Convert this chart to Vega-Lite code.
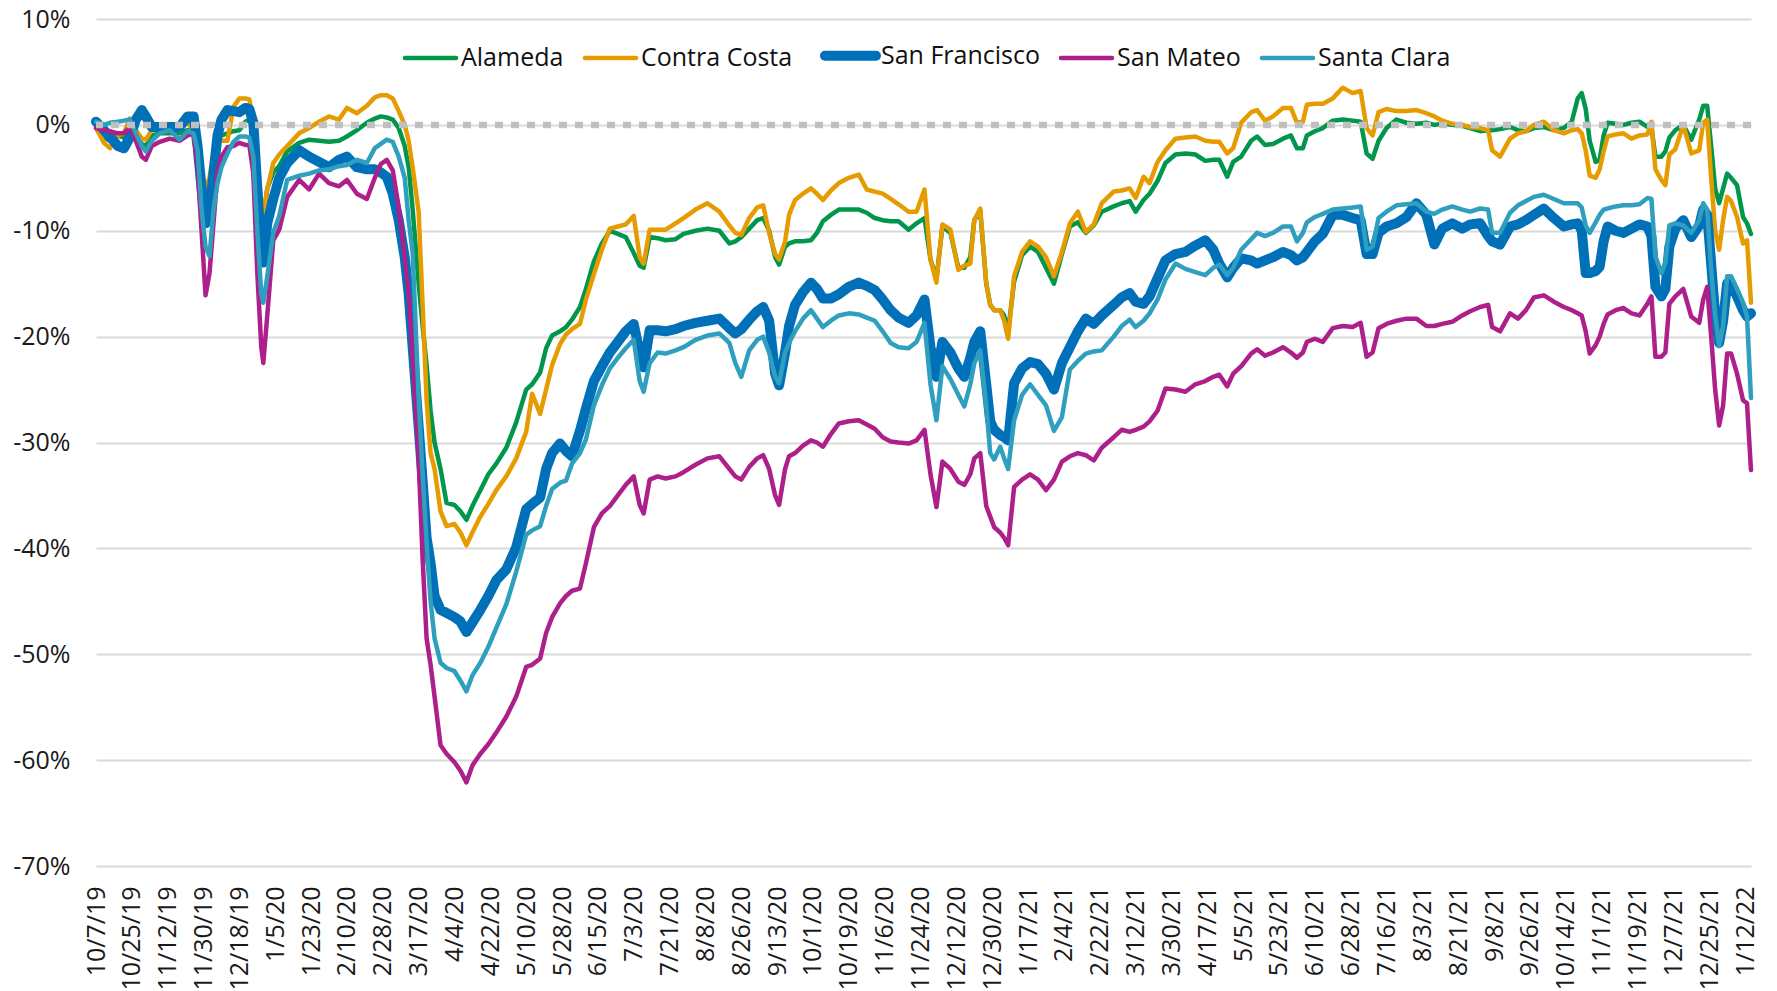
{
"$schema": "https://vega.github.io/schema/vega-lite/v6.json",
"width": 1655, "height": 847,
"autosize": {"type": "none"},
"padding": {"left": 96, "top": 19, "right": 26, "bottom": 125},
"background": "white",
"datasets": {"rows": [
{"date":"2019-10-07","Alameda":0,"Contra Costa":-0.3,"San Francisco":0.3,"San Mateo":-0.3,"Santa Clara":0.3},
{"date":"2019-10-11","Alameda":-1.2,"Contra Costa":-1.7,"San Francisco":-0.5,"San Mateo":-0.5,"Santa Clara":0},
{"date":"2019-10-14","Alameda":-1.5,"Contra Costa":-2.2,"San Francisco":-1.1,"San Mateo":-0.6,"Santa Clara":0.2},
{"date":"2019-10-18","Alameda":-1,"Contra Costa":-1,"San Francisco":-2,"San Mateo":-0.8,"Santa Clara":0.3},
{"date":"2019-10-21","Alameda":-1.2,"Contra Costa":-0.8,"San Francisco":-2.2,"San Mateo":-0.8,"Santa Clara":0.4},
{"date":"2019-10-24","Alameda":-0.5,"Contra Costa":0.6,"San Francisco":-1.2,"San Mateo":-0.2,"Santa Clara":0.5},
{"date":"2019-10-27","Alameda":-1,"Contra Costa":-0.5,"San Francisco":0.5,"San Mateo":-1.5,"Santa Clara":-0.8},
{"date":"2019-10-30","Alameda":-1.8,"Contra Costa":-1.3,"San Francisco":1.4,"San Mateo":-3,"Santa Clara":-2},
{"date":"2019-11-01","Alameda":-2,"Contra Costa":-1.4,"San Francisco":0.8,"San Mateo":-3.3,"Santa Clara":-2.5},
{"date":"2019-11-04","Alameda":-1,"Contra Costa":-0.5,"San Francisco":-0.2,"San Mateo":-2,"Santa Clara":-1.5},
{"date":"2019-11-08","Alameda":-0.8,"Contra Costa":-0.3,"San Francisco":-0.2,"San Mateo":-1.6,"Santa Clara":-0.8},
{"date":"2019-11-13","Alameda":-0.8,"Contra Costa":-0.2,"San Francisco":-0.2,"San Mateo":-1.3,"Santa Clara":-0.5},
{"date":"2019-11-18","Alameda":-0.8,"Contra Costa":-0.2,"San Francisco":-0.2,"San Mateo":-1.5,"Santa Clara":-1.4},
{"date":"2019-11-22","Alameda":-0.5,"Contra Costa":0.2,"San Francisco":0.8,"San Mateo":-1,"Santa Clara":-0.6},
{"date":"2019-11-25","Alameda":-0.6,"Contra Costa":-0.5,"San Francisco":0.8,"San Mateo":-0.8,"Santa Clara":-0.8},
{"date":"2019-11-27","Alameda":-2.5,"Contra Costa":-2,"San Francisco":-2,"San Mateo":-4,"Santa Clara":-2.4},
{"date":"2019-11-29","Alameda":-5,"Contra Costa":-4.5,"San Francisco":-6,"San Mateo":-10,"Santa Clara":-8},
{"date":"2019-12-01","Alameda":-7,"Contra Costa":-6,"San Francisco":-9.3,"San Mateo":-16.1,"Santa Clara":-11.5},
{"date":"2019-12-03","Alameda":-6,"Contra Costa":-5,"San Francisco":-8,"San Mateo":-14,"Santa Clara":-12.4},
{"date":"2019-12-05","Alameda":-3,"Contra Costa":-2.5,"San Francisco":-4.6,"San Mateo":-9.3,"Santa Clara":-8},
{"date":"2019-12-07","Alameda":-1.5,"Contra Costa":-1.5,"San Francisco":-1,"San Mateo":-4.5,"Santa Clara":-5.5},
{"date":"2019-12-09","Alameda":-1,"Contra Costa":-1.5,"San Francisco":0.5,"San Mateo":-3,"Santa Clara":-4},
{"date":"2019-12-12","Alameda":-0.8,"Contra Costa":-1.5,"San Francisco":1.4,"San Mateo":-2.1,"Santa Clara":-2.7},
{"date":"2019-12-15","Alameda":-0.6,"Contra Costa":1.7,"San Francisco":1.3,"San Mateo":-2,"Santa Clara":-1.6},
{"date":"2019-12-18","Alameda":-0.5,"Contra Costa":2.5,"San Francisco":1.2,"San Mateo":-1.7,"Santa Clara":-1.1},
{"date":"2019-12-21","Alameda":0.3,"Contra Costa":2.5,"San Francisco":1.6,"San Mateo":-1.9,"Santa Clara":-1.1},
{"date":"2019-12-23","Alameda":0.5,"Contra Costa":2.4,"San Francisco":1.5,"San Mateo":-1.9,"Santa Clara":-1.2},
{"date":"2019-12-25","Alameda":-0.5,"Contra Costa":0,"San Francisco":0.2,"San Mateo":-4.6,"Santa Clara":-3},
{"date":"2019-12-27","Alameda":-4,"Contra Costa":-4,"San Francisco":-6,"San Mateo":-14,"Santa Clara":-10},
{"date":"2019-12-29","Alameda":-8,"Contra Costa":-7.4,"San Francisco":-12,"San Mateo":-21,"Santa Clara":-16},
{"date":"2019-12-30","Alameda":-9,"Contra Costa":-8.3,"San Francisco":-13,"San Mateo":-22.5,"Santa Clara":-16.8},
{"date":"2020-01-01","Alameda":-6,"Contra Costa":-6.1,"San Francisco":-9.3,"San Mateo":-18,"Santa Clara":-14.3},
{"date":"2020-01-04","Alameda":-4.5,"Contra Costa":-3.6,"San Francisco":-7,"San Mateo":-10.9,"Santa Clara":-10.2},
{"date":"2020-01-07","Alameda":-3.9,"Contra Costa":-2.8,"San Francisco":-5,"San Mateo":-9.9,"Santa Clara":-8.6},
{"date":"2020-01-11","Alameda":-2.5,"Contra Costa":-2,"San Francisco":-3.6,"San Mateo":-6.8,"Santa Clara":-5.2},
{"date":"2020-01-17","Alameda":-1.7,"Contra Costa":-0.8,"San Francisco":-2.4,"San Mateo":-5.2,"Santa Clara":-4.8},
{"date":"2020-01-22","Alameda":-1.4,"Contra Costa":-0.3,"San Francisco":-3,"San Mateo":-6.1,"Santa Clara":-4.6},
{"date":"2020-01-27","Alameda":-1.5,"Contra Costa":0.3,"San Francisco":-3.5,"San Mateo":-4.6,"Santa Clara":-4.3},
{"date":"2020-02-01","Alameda":-1.6,"Contra Costa":0.8,"San Francisco":-4,"San Mateo":-5.5,"Santa Clara":-4.2},
{"date":"2020-02-06","Alameda":-1.5,"Contra Costa":0.5,"San Francisco":-3.3,"San Mateo":-5.8,"Santa Clara":-3.9},
{"date":"2020-02-10","Alameda":-1.1,"Contra Costa":1.6,"San Francisco":-3,"San Mateo":-5.2,"Santa Clara":-3.8},
{"date":"2020-02-15","Alameda":-0.5,"Contra Costa":1.1,"San Francisco":-4,"San Mateo":-6.5,"Santa Clara":-3.3},
{"date":"2020-02-20","Alameda":0.2,"Contra Costa":1.8,"San Francisco":-4.2,"San Mateo":-7,"Santa Clara":-3.6},
{"date":"2020-02-24","Alameda":0.6,"Contra Costa":2.6,"San Francisco":-4.2,"San Mateo":-5,"Santa Clara":-2.2},
{"date":"2020-02-27","Alameda":0.8,"Contra Costa":2.8,"San Francisco":-4.5,"San Mateo":-3.7,"Santa Clara":-1.8},
{"date":"2020-03-01","Alameda":0.7,"Contra Costa":2.8,"San Francisco":-4.9,"San Mateo":-3.3,"Santa Clara":-1.4},
{"date":"2020-03-04","Alameda":0.5,"Contra Costa":2.5,"San Francisco":-6.5,"San Mateo":-4.3,"Santa Clara":-1.6},
{"date":"2020-03-07","Alameda":-0.3,"Contra Costa":1.3,"San Francisco":-9,"San Mateo":-7.8,"Santa Clara":-3},
{"date":"2020-03-10","Alameda":-2,"Contra Costa":0,"San Francisco":-12.5,"San Mateo":-12.5,"Santa Clara":-5},
{"date":"2020-03-12","Alameda":-4,"Contra Costa":-1.5,"San Francisco":-16,"San Mateo":-16,"Santa Clara":-9},
{"date":"2020-03-14","Alameda":-8,"Contra Costa":-4,"San Francisco":-21,"San Mateo":-22,"Santa Clara":-12.1},
{"date":"2020-03-17","Alameda":-15,"Contra Costa":-8.2,"San Francisco":-28.5,"San Mateo":-31.5,"Santa Clara":-25.8},
{"date":"2020-03-19","Alameda":-19,"Contra Costa":-17,"San Francisco":-33.6,"San Mateo":-41,"Santa Clara":-33},
{"date":"2020-03-21","Alameda":-22.7,"Contra Costa":-26,"San Francisco":-39,"San Mateo":-48.5,"Santa Clara":-39.5},
{"date":"2020-03-23","Alameda":-27,"Contra Costa":-31,"San Francisco":-41.4,"San Mateo":-51,"Santa Clara":-45},
{"date":"2020-03-25","Alameda":-30,"Contra Costa":-32.5,"San Francisco":-44.5,"San Mateo":-54,"Santa Clara":-48.5},
{"date":"2020-03-28","Alameda":-32.5,"Contra Costa":-36.5,"San Francisco":-45.8,"San Mateo":-58.6,"Santa Clara":-50.8},
{"date":"2020-03-31","Alameda":-35.7,"Contra Costa":-37.9,"San Francisco":-46.1,"San Mateo":-59.4,"Santa Clara":-51.3},
{"date":"2020-04-04","Alameda":-35.9,"Contra Costa":-37.7,"San Francisco":-46.5,"San Mateo":-60.2,"Santa Clara":-51.6},
{"date":"2020-04-07","Alameda":-36.5,"Contra Costa":-38.5,"San Francisco":-46.9,"San Mateo":-61,"Santa Clara":-52.5},
{"date":"2020-04-10","Alameda":-37.3,"Contra Costa":-39.7,"San Francisco":-47.9,"San Mateo":-62.1,"Santa Clara":-53.5},
{"date":"2020-04-13","Alameda":-36,"Contra Costa":-38.5,"San Francisco":-47,"San Mateo":-60.5,"Santa Clara":-52},
{"date":"2020-04-17","Alameda":-34.5,"Contra Costa":-37,"San Francisco":-45.8,"San Mateo":-59.4,"Santa Clara":-50.8},
{"date":"2020-04-21","Alameda":-33,"Contra Costa":-35.8,"San Francisco":-44.5,"San Mateo":-58.5,"Santa Clara":-49.3},
{"date":"2020-04-25","Alameda":-32,"Contra Costa":-34.5,"San Francisco":-43,"San Mateo":-57.4,"Santa Clara":-47.5},
{"date":"2020-04-30","Alameda":-30.5,"Contra Costa":-33.2,"San Francisco":-42,"San Mateo":-55.9,"Santa Clara":-45.3},
{"date":"2020-05-05","Alameda":-28.1,"Contra Costa":-31.5,"San Francisco":-39.9,"San Mateo":-54,"Santa Clara":-42.2},
{"date":"2020-05-10","Alameda":-25,"Contra Costa":-29,"San Francisco":-36.3,"San Mateo":-51.2,"Santa Clara":-38.7},
{"date":"2020-05-13","Alameda":-24.5,"Contra Costa":-25.4,"San Francisco":-35.8,"San Mateo":-51,"Santa Clara":-38.3},
{"date":"2020-05-17","Alameda":-23.4,"Contra Costa":-27.3,"San Francisco":-35.2,"San Mateo":-50.4,"Santa Clara":-37.9},
{"date":"2020-05-20","Alameda":-21.1,"Contra Costa":-25,"San Francisco":-32.5,"San Mateo":-48,"Santa Clara":-36},
{"date":"2020-05-23","Alameda":-19.9,"Contra Costa":-22.7,"San Francisco":-31,"San Mateo":-46.5,"Santa Clara":-34.4},
{"date":"2020-05-27","Alameda":-19.5,"Contra Costa":-20.7,"San Francisco":-30.1,"San Mateo":-45.2,"Santa Clara":-33.8},
{"date":"2020-05-30","Alameda":-19.1,"Contra Costa":-19.8,"San Francisco":-30.8,"San Mateo":-44.5,"Santa Clara":-33.6},
{"date":"2020-06-02","Alameda":-18.4,"Contra Costa":-19.3,"San Francisco":-31.3,"San Mateo":-44,"Santa Clara":-32},
{"date":"2020-06-06","Alameda":-17.2,"Contra Costa":-18.8,"San Francisco":-28.9,"San Mateo":-43.8,"Santa Clara":-31},
{"date":"2020-06-09","Alameda":-15.5,"Contra Costa":-16.5,"San Francisco":-26.8,"San Mateo":-41.4,"Santa Clara":-29.7},
{"date":"2020-06-13","Alameda":-12.9,"Contra Costa":-14.1,"San Francisco":-24.2,"San Mateo":-38,"Santa Clara":-26.5},
{"date":"2020-06-17","Alameda":-11.2,"Contra Costa":-11.8,"San Francisco":-22.8,"San Mateo":-36.7,"Santa Clara":-24.6},
{"date":"2020-06-21","Alameda":-10,"Contra Costa":-9.8,"San Francisco":-21.5,"San Mateo":-36,"Santa Clara":-23},
{"date":"2020-06-25","Alameda":-10.3,"Contra Costa":-9.6,"San Francisco":-20.5,"San Mateo":-35,"Santa Clara":-22},
{"date":"2020-06-29","Alameda":-10.6,"Contra Costa":-9.4,"San Francisco":-19.5,"San Mateo":-34,"Santa Clara":-21.1},
{"date":"2020-07-03","Alameda":-12.1,"Contra Costa":-8.6,"San Francisco":-18.8,"San Mateo":-33.2,"Santa Clara":-20.3},
{"date":"2020-07-06","Alameda":-13.3,"Contra Costa":-12.5,"San Francisco":-21.5,"San Mateo":-35.9,"Santa Clara":-24.2},
{"date":"2020-07-08","Alameda":-13.5,"Contra Costa":-13.1,"San Francisco":-22.9,"San Mateo":-36.7,"Santa Clara":-25.2},
{"date":"2020-07-11","Alameda":-10.6,"Contra Costa":-9.9,"San Francisco":-19.4,"San Mateo":-33.5,"Santa Clara":-22.5},
{"date":"2020-07-15","Alameda":-10.7,"Contra Costa":-9.9,"San Francisco":-19.4,"San Mateo":-33.2,"Santa Clara":-21.5},
{"date":"2020-07-19","Alameda":-10.9,"Contra Costa":-9.9,"San Francisco":-19.5,"San Mateo":-33.4,"Santa Clara":-21.6},
{"date":"2020-07-24","Alameda":-10.8,"Contra Costa":-9.3,"San Francisco":-19.3,"San Mateo":-33.2,"Santa Clara":-21.3},
{"date":"2020-07-28","Alameda":-10.3,"Contra Costa":-8.8,"San Francisco":-19,"San Mateo":-32.8,"Santa Clara":-21},
{"date":"2020-08-03","Alameda":-10,"Contra Costa":-8,"San Francisco":-18.7,"San Mateo":-32.1,"Santa Clara":-20.3},
{"date":"2020-08-09","Alameda":-9.8,"Contra Costa":-7.4,"San Francisco":-18.5,"San Mateo":-31.5,"Santa Clara":-19.9},
{"date":"2020-08-15","Alameda":-10,"Contra Costa":-8.2,"San Francisco":-18.3,"San Mateo":-31.3,"Santa Clara":-19.7},
{"date":"2020-08-20","Alameda":-11.2,"Contra Costa":-9.5,"San Francisco":-19.2,"San Mateo":-32.5,"Santa Clara":-20.6},
{"date":"2020-08-23","Alameda":-11,"Contra Costa":-10.2,"San Francisco":-19.7,"San Mateo":-33.2,"Santa Clara":-22.5},
{"date":"2020-08-26","Alameda":-10.6,"Contra Costa":-10.4,"San Francisco":-19.3,"San Mateo":-33.5,"Santa Clara":-23.8},
{"date":"2020-08-30","Alameda":-9.8,"Contra Costa":-8.8,"San Francisco":-18.4,"San Mateo":-32.3,"Santa Clara":-21.3},
{"date":"2020-09-03","Alameda":-9,"Contra Costa":-7.8,"San Francisco":-17.6,"San Mateo":-31.5,"Santa Clara":-20.3},
{"date":"2020-09-06","Alameda":-8.8,"Contra Costa":-7.6,"San Francisco":-17.2,"San Mateo":-31.2,"Santa Clara":-20},
{"date":"2020-09-09","Alameda":-10,"Contra Costa":-10.2,"San Francisco":-18.5,"San Mateo":-32.5,"Santa Clara":-21.5},
{"date":"2020-09-12","Alameda":-12.5,"Contra Costa":-12.2,"San Francisco":-23.5,"San Mateo":-35,"Santa Clara":-23.8},
{"date":"2020-09-14","Alameda":-13.2,"Contra Costa":-12.7,"San Francisco":-24.6,"San Mateo":-35.9,"Santa Clara":-24.4},
{"date":"2020-09-17","Alameda":-11.5,"Contra Costa":-11,"San Francisco":-21.5,"San Mateo":-32.5,"Santa Clara":-21.5},
{"date":"2020-09-19","Alameda":-11.2,"Contra Costa":-8.5,"San Francisco":-19,"San Mateo":-31.3,"Santa Clara":-20.6},
{"date":"2020-09-22","Alameda":-11,"Contra Costa":-7.1,"San Francisco":-17,"San Mateo":-31,"Santa Clara":-19.5},
{"date":"2020-09-26","Alameda":-11,"Contra Costa":-6.5,"San Francisco":-15.8,"San Mateo":-30.3,"Santa Clara":-18.3},
{"date":"2020-09-30","Alameda":-10.9,"Contra Costa":-6,"San Francisco":-14.9,"San Mateo":-29.8,"Santa Clara":-17.5},
{"date":"2020-10-03","Alameda":-10.2,"Contra Costa":-6.5,"San Francisco":-15.5,"San Mateo":-30,"Santa Clara":-18.3},
{"date":"2020-10-06","Alameda":-9.1,"Contra Costa":-7.1,"San Francisco":-16.4,"San Mateo":-30.4,"Santa Clara":-19.1},
{"date":"2020-10-10","Alameda":-8.5,"Contra Costa":-6.2,"San Francisco":-16.4,"San Mateo":-29.2,"Santa Clara":-18.5},
{"date":"2020-10-14","Alameda":-8,"Contra Costa":-5.5,"San Francisco":-16,"San Mateo":-28.2,"Santa Clara":-18},
{"date":"2020-10-19","Alameda":-8,"Contra Costa":-5,"San Francisco":-15.3,"San Mateo":-28,"Santa Clara":-17.8},
{"date":"2020-10-24","Alameda":-8,"Contra Costa":-4.7,"San Francisco":-14.9,"San Mateo":-27.9,"Santa Clara":-17.9},
{"date":"2020-10-28","Alameda":-8.3,"Contra Costa":-6.1,"San Francisco":-15.2,"San Mateo":-28.3,"Santa Clara":-18.2},
{"date":"2020-11-01","Alameda":-8.8,"Contra Costa":-6.3,"San Francisco":-15.6,"San Mateo":-28.7,"Santa Clara":-18.5},
{"date":"2020-11-05","Alameda":-9,"Contra Costa":-6.5,"San Francisco":-16.5,"San Mateo":-29.5,"Santa Clara":-19.5},
{"date":"2020-11-09","Alameda":-9.1,"Contra Costa":-7,"San Francisco":-17.5,"San Mateo":-29.9,"Santa Clara":-20.6},
{"date":"2020-11-13","Alameda":-9.1,"Contra Costa":-7.5,"San Francisco":-18.2,"San Mateo":-30,"Santa Clara":-21},
{"date":"2020-11-18","Alameda":-9.9,"Contra Costa":-8.2,"San Francisco":-18.7,"San Mateo":-30.1,"Santa Clara":-21.1},
{"date":"2020-11-22","Alameda":-9.3,"Contra Costa":-8.2,"San Francisco":-18,"San Mateo":-29.8,"Santa Clara":-20.5},
{"date":"2020-11-26","Alameda":-8.8,"Contra Costa":-6.1,"San Francisco":-16.5,"San Mateo":-28.8,"Santa Clara":-18.7},
{"date":"2020-11-29","Alameda":-12.7,"Contra Costa":-12.7,"San Francisco":-21,"San Mateo":-33,"Santa Clara":-24.5},
{"date":"2020-12-02","Alameda":-14.5,"Contra Costa":-14.9,"San Francisco":-23.8,"San Mateo":-36.1,"Santa Clara":-27.9},
{"date":"2020-12-05","Alameda":-9.6,"Contra Costa":-9.4,"San Francisco":-20.5,"San Mateo":-31.8,"Santa Clara":-22.8},
{"date":"2020-12-09","Alameda":-10.2,"Contra Costa":-9.9,"San Francisco":-21.5,"San Mateo":-32.5,"Santa Clara":-24},
{"date":"2020-12-13","Alameda":-13.5,"Contra Costa":-13.7,"San Francisco":-23,"San Mateo":-33.7,"Santa Clara":-25.5},
{"date":"2020-12-16","Alameda":-13.5,"Contra Costa":-13.3,"San Francisco":-23.8,"San Mateo":-34,"Santa Clara":-26.6},
{"date":"2020-12-19","Alameda":-12.5,"Contra Costa":-13.1,"San Francisco":-22,"San Mateo":-33,"Santa Clara":-24.5},
{"date":"2020-12-21","Alameda":-9,"Contra Costa":-9,"San Francisco":-20.5,"San Mateo":-31.5,"Santa Clara":-22.5},
{"date":"2020-12-24","Alameda":-8.2,"Contra Costa":-7.9,"San Francisco":-19.5,"San Mateo":-31,"Santa Clara":-21.3},
{"date":"2020-12-27","Alameda":-15,"Contra Costa":-14.9,"San Francisco":-24.5,"San Mateo":-36,"Santa Clara":-26.5},
{"date":"2020-12-29","Alameda":-17,"Contra Costa":-17,"San Francisco":-28,"San Mateo":-37,"Santa Clara":-31},
{"date":"2020-12-31","Alameda":-17.5,"Contra Costa":-17.5,"San Francisco":-28.8,"San Mateo":-38,"Santa Clara":-31.6},
{"date":"2021-01-03","Alameda":-17.5,"Contra Costa":-17.5,"San Francisco":-29.3,"San Mateo":-38.5,"Santa Clara":-30.4},
{"date":"2021-01-05","Alameda":-18,"Contra Costa":-18.5,"San Francisco":-29.5,"San Mateo":-39,"Santa Clara":-31.5},
{"date":"2021-01-07","Alameda":-19.5,"Contra Costa":-20.2,"San Francisco":-29.8,"San Mateo":-39.7,"Santa Clara":-32.5},
{"date":"2021-01-10","Alameda":-14.8,"Contra Costa":-14.3,"San Francisco":-24.4,"San Mateo":-34.2,"Santa Clara":-27.9},
{"date":"2021-01-14","Alameda":-12.3,"Contra Costa":-12,"San Francisco":-23,"San Mateo":-33.5,"Santa Clara":-25.5},
{"date":"2021-01-18","Alameda":-11.5,"Contra Costa":-11,"San Francisco":-22.4,"San Mateo":-33,"Santa Clara":-24.5},
{"date":"2021-01-22","Alameda":-12,"Contra Costa":-11.5,"San Francisco":-22.6,"San Mateo":-33.5,"Santa Clara":-25.5},
{"date":"2021-01-26","Alameda":-13.5,"Contra Costa":-12.5,"San Francisco":-23.5,"San Mateo":-34.5,"Santa Clara":-26.5},
{"date":"2021-01-30","Alameda":-15,"Contra Costa":-14.3,"San Francisco":-25,"San Mateo":-33.5,"Santa Clara":-28.9},
{"date":"2021-02-03","Alameda":-12.2,"Contra Costa":-12,"San Francisco":-22.5,"San Mateo":-31.8,"Santa Clara":-27.6},
{"date":"2021-02-07","Alameda":-9.6,"Contra Costa":-9.3,"San Francisco":-21,"San Mateo":-31.3,"Santa Clara":-23.1},
{"date":"2021-02-11","Alameda":-9.2,"Contra Costa":-8.2,"San Francisco":-19.5,"San Mateo":-31,"Santa Clara":-22.3},
{"date":"2021-02-15","Alameda":-10.2,"Contra Costa":-10.1,"San Francisco":-18.3,"San Mateo":-31.2,"Santa Clara":-21.6},
{"date":"2021-02-19","Alameda":-9.5,"Contra Costa":-9.4,"San Francisco":-18.8,"San Mateo":-31.7,"Santa Clara":-21.4},
{"date":"2021-02-23","Alameda":-8.2,"Contra Costa":-7.4,"San Francisco":-18,"San Mateo":-30.5,"Santa Clara":-21.3},
{"date":"2021-03-01","Alameda":-7.7,"Contra Costa":-6.3,"San Francisco":-17,"San Mateo":-29.5,"Santa Clara":-20},
{"date":"2021-03-05","Alameda":-7.4,"Contra Costa":-6.2,"San Francisco":-16.3,"San Mateo":-28.8,"Santa Clara":-19},
{"date":"2021-03-09","Alameda":-7.2,"Contra Costa":-6,"San Francisco":-15.9,"San Mateo":-29,"Santa Clara":-18.4},
{"date":"2021-03-12","Alameda":-8.2,"Contra Costa":-6.9,"San Francisco":-16.7,"San Mateo":-28.8,"Santa Clara":-19.1},
{"date":"2021-03-16","Alameda":-7.1,"Contra Costa":-4.9,"San Francisco":-16.9,"San Mateo":-28.5,"Santa Clara":-18.5},
{"date":"2021-03-19","Alameda":-6.5,"Contra Costa":-5.5,"San Francisco":-16.2,"San Mateo":-28,"Santa Clara":-17.8},
{"date":"2021-03-23","Alameda":-5.3,"Contra Costa":-3.5,"San Francisco":-14.5,"San Mateo":-27,"Santa Clara":-16.5},
{"date":"2021-03-27","Alameda":-3.6,"Contra Costa":-2.4,"San Francisco":-12.8,"San Mateo":-24.9,"Santa Clara":-14.6},
{"date":"2021-04-01","Alameda":-2.8,"Contra Costa":-1.3,"San Francisco":-12.2,"San Mateo":-25,"Santa Clara":-13.1},
{"date":"2021-04-06","Alameda":-2.7,"Contra Costa":-1.2,"San Francisco":-12,"San Mateo":-25.2,"Santa Clara":-13.6},
{"date":"2021-04-11","Alameda":-2.8,"Contra Costa":-1.1,"San Francisco":-11.4,"San Mateo":-24.5,"Santa Clara":-13.9},
{"date":"2021-04-16","Alameda":-3.4,"Contra Costa":-1.5,"San Francisco":-10.9,"San Mateo":-24.2,"Santa Clara":-14.2},
{"date":"2021-04-20","Alameda":-3.3,"Contra Costa":-1.6,"San Francisco":-11.8,"San Mateo":-23.8,"Santa Clara":-13.5},
{"date":"2021-04-23","Alameda":-3.3,"Contra Costa":-1.6,"San Francisco":-13.1,"San Mateo":-23.6,"Santa Clara":-13.2},
{"date":"2021-04-27","Alameda":-4.9,"Contra Costa":-2.7,"San Francisco":-14.4,"San Mateo":-24.7,"Santa Clara":-14.2},
{"date":"2021-04-30","Alameda":-3.5,"Contra Costa":-2.2,"San Francisco":-13.5,"San Mateo":-23.5,"Santa Clara":-13.5},
{"date":"2021-05-04","Alameda":-3,"Contra Costa":0.2,"San Francisco":-12.6,"San Mateo":-22.8,"Santa Clara":-11.8},
{"date":"2021-05-09","Alameda":-1.5,"Contra Costa":1.2,"San Francisco":-12.8,"San Mateo":-21.6,"Santa Clara":-10.8},
{"date":"2021-05-12","Alameda":-1.1,"Contra Costa":1.4,"San Francisco":-13.1,"San Mateo":-21.2,"Santa Clara":-10.2},
{"date":"2021-05-16","Alameda":-1.9,"Contra Costa":0.4,"San Francisco":-12.8,"San Mateo":-21.8,"Santa Clara":-10.5},
{"date":"2021-05-20","Alameda":-1.8,"Contra Costa":0.8,"San Francisco":-12.5,"San Mateo":-21.5,"Santa Clara":-10.2},
{"date":"2021-05-25","Alameda":-1.3,"Contra Costa":1.6,"San Francisco":-12,"San Mateo":-21,"Santa Clara":-9.6},
{"date":"2021-05-29","Alameda":-1,"Contra Costa":1.6,"San Francisco":-12.3,"San Mateo":-21.5,"Santa Clara":-9.6},
{"date":"2021-06-01","Alameda":-2.2,"Contra Costa":0.2,"San Francisco":-12.8,"San Mateo":-22,"Santa Clara":-11},
{"date":"2021-06-04","Alameda":-2.2,"Contra Costa":0.3,"San Francisco":-12.5,"San Mateo":-21.5,"Santa Clara":-10.2},
{"date":"2021-06-06","Alameda":-1,"Contra Costa":1.9,"San Francisco":-12,"San Mateo":-20.5,"Santa Clara":-9.2},
{"date":"2021-06-10","Alameda":-0.6,"Contra Costa":2,"San Francisco":-11,"San Mateo":-20.2,"Santa Clara":-8.7},
{"date":"2021-06-14","Alameda":-0.3,"Contra Costa":2,"San Francisco":-10.3,"San Mateo":-20.5,"Santa Clara":-8.4},
{"date":"2021-06-19","Alameda":0.4,"Contra Costa":2.5,"San Francisco":-8.5,"San Mateo":-19.2,"Santa Clara":-8},
{"date":"2021-06-24","Alameda":0.5,"Contra Costa":3.5,"San Francisco":-8.5,"San Mateo":-19,"Santa Clara":-7.9},
{"date":"2021-06-29","Alameda":0.4,"Contra Costa":3,"San Francisco":-8.8,"San Mateo":-19.1,"Santa Clara":-7.8},
{"date":"2021-07-03","Alameda":0.3,"Contra Costa":3.2,"San Francisco":-9,"San Mateo":-18.7,"Santa Clara":-7.7},
{"date":"2021-07-06","Alameda":-2.7,"Contra Costa":-0.3,"San Francisco":-12.2,"San Mateo":-21.9,"Santa Clara":-11.8},
{"date":"2021-07-09","Alameda":-3.2,"Contra Costa":-1,"San Francisco":-12.2,"San Mateo":-21.5,"Santa Clara":-11.5},
{"date":"2021-07-12","Alameda":-1.5,"Contra Costa":1.2,"San Francisco":-10.2,"San Mateo":-19.2,"Santa Clara":-8.8},
{"date":"2021-07-16","Alameda":-0.3,"Contra Costa":1.5,"San Francisco":-9.6,"San Mateo":-18.8,"Santa Clara":-8.2},
{"date":"2021-07-21","Alameda":0.5,"Contra Costa":1.3,"San Francisco":-9.3,"San Mateo":-18.5,"Santa Clara":-7.6},
{"date":"2021-07-26","Alameda":0.2,"Contra Costa":1.3,"San Francisco":-8.7,"San Mateo":-18.3,"Santa Clara":-7.5},
{"date":"2021-07-31","Alameda":0.1,"Contra Costa":1.4,"San Francisco":-7.4,"San Mateo":-18.3,"Santa Clara":-7.4},
{"date":"2021-08-05","Alameda":0.2,"Contra Costa":1.1,"San Francisco":-8.5,"San Mateo":-19,"Santa Clara":-8.2},
{"date":"2021-08-09","Alameda":0,"Contra Costa":0.8,"San Francisco":-11.3,"San Mateo":-19,"Santa Clara":-8.4},
{"date":"2021-08-13","Alameda":0.1,"Contra Costa":0.4,"San Francisco":-9.8,"San Mateo":-18.8,"Santa Clara":-8},
{"date":"2021-08-18","Alameda":0,"Contra Costa":0.1,"San Francisco":-9.3,"San Mateo":-18.6,"Santa Clara":-7.7},
{"date":"2021-08-23","Alameda":-0.1,"Contra Costa":0,"San Francisco":-9.8,"San Mateo":-18,"Santa Clara":-8},
{"date":"2021-08-27","Alameda":-0.3,"Contra Costa":-0.2,"San Francisco":-9.4,"San Mateo":-17.6,"Santa Clara":-8.2},
{"date":"2021-09-01","Alameda":-0.6,"Contra Costa":-0.3,"San Francisco":-9.3,"San Mateo":-17.2,"Santa Clara":-7.9},
{"date":"2021-09-05","Alameda":-0.5,"Contra Costa":-0.5,"San Francisco":-10.5,"San Mateo":-17,"Santa Clara":-8},
{"date":"2021-09-07","Alameda":-0.5,"Contra Costa":-2.4,"San Francisco":-11,"San Mateo":-19.1,"Santa Clara":-10.2},
{"date":"2021-09-11","Alameda":-0.4,"Contra Costa":-3,"San Francisco":-11.3,"San Mateo":-19.5,"Santa Clara":-10.2},
{"date":"2021-09-16","Alameda":-0.2,"Contra Costa":-1.3,"San Francisco":-9.6,"San Mateo":-17.8,"Santa Clara":-8.3},
{"date":"2021-09-20","Alameda":-0.5,"Contra Costa":-0.8,"San Francisco":-9.4,"San Mateo":-18.3,"Santa Clara":-7.6},
{"date":"2021-09-24","Alameda":-0.6,"Contra Costa":-0.6,"San Francisco":-9,"San Mateo":-17.5,"Santa Clara":-7.2},
{"date":"2021-09-28","Alameda":-0.3,"Contra Costa":0,"San Francisco":-8.5,"San Mateo":-16.3,"Santa Clara":-6.8},
{"date":"2021-10-03","Alameda":-0.2,"Contra Costa":0.3,"San Francisco":-7.9,"San Mateo":-16.1,"Santa Clara":-6.6},
{"date":"2021-10-08","Alameda":-0.5,"Contra Costa":-0.5,"San Francisco":-8.8,"San Mateo":-16.7,"Santa Clara":-7},
{"date":"2021-10-13","Alameda":-0.3,"Contra Costa":-0.8,"San Francisco":-9.6,"San Mateo":-17.2,"Santa Clara":-7.4},
{"date":"2021-10-17","Alameda":0.3,"Contra Costa":-0.5,"San Francisco":-9.4,"San Mateo":-17.5,"Santa Clara":-7.4},
{"date":"2021-10-20","Alameda":2.5,"Contra Costa":-0.4,"San Francisco":-9.3,"San Mateo":-17.8,"Santa Clara":-7.4},
{"date":"2021-10-22","Alameda":3,"Contra Costa":-0.8,"San Francisco":-10,"San Mateo":-18,"Santa Clara":-7.8},
{"date":"2021-10-24","Alameda":1.5,"Contra Costa":-2.4,"San Francisco":-14,"San Mateo":-19.5,"Santa Clara":-9.5},
{"date":"2021-10-26","Alameda":-1.5,"Contra Costa":-4.8,"San Francisco":-14,"San Mateo":-21.6,"Santa Clara":-10.2},
{"date":"2021-10-29","Alameda":-3.5,"Contra Costa":-5,"San Francisco":-13.8,"San Mateo":-20.8,"Santa Clara":-9.2},
{"date":"2021-10-31","Alameda":-3.3,"Contra Costa":-4.2,"San Francisco":-13.4,"San Mateo":-20,"Santa Clara":-8.5},
{"date":"2021-11-02","Alameda":-1,"Contra Costa":-2.5,"San Francisco":-11,"San Mateo":-18.8,"Santa Clara":-8},
{"date":"2021-11-04","Alameda":0.2,"Contra Costa":-1.1,"San Francisco":-9.6,"San Mateo":-17.9,"Santa Clara":-7.9},
{"date":"2021-11-08","Alameda":0.1,"Contra Costa":-0.9,"San Francisco":-10,"San Mateo":-17.5,"Santa Clara":-7.7},
{"date":"2021-11-12","Alameda":0,"Contra Costa":-0.8,"San Francisco":-10.2,"San Mateo":-17.3,"Santa Clara":-7.6},
{"date":"2021-11-16","Alameda":0.2,"Contra Costa":-1.3,"San Francisco":-9.8,"San Mateo":-17.8,"Santa Clara":-7.6},
{"date":"2021-11-20","Alameda":0.3,"Contra Costa":-1,"San Francisco":-9.4,"San Mateo":-18,"Santa Clara":-7.5},
{"date":"2021-11-24","Alameda":-0.2,"Contra Costa":-0.9,"San Francisco":-9.6,"San Mateo":-16.9,"Santa Clara":-6.9},
{"date":"2021-11-26","Alameda":-0.2,"Contra Costa":0.3,"San Francisco":-10.5,"San Mateo":-16.2,"Santa Clara":-7},
{"date":"2021-11-28","Alameda":-3,"Contra Costa":-4.2,"San Francisco":-15.3,"San Mateo":-21.9,"Santa Clara":-12.4},
{"date":"2021-12-01","Alameda":-3,"Contra Costa":-5.2,"San Francisco":-16.2,"San Mateo":-21.9,"Santa Clara":-14},
{"date":"2021-12-03","Alameda":-2.5,"Contra Costa":-5.7,"San Francisco":-15.5,"San Mateo":-21.5,"Santa Clara":-13},
{"date":"2021-12-05","Alameda":-1.2,"Contra Costa":-2.8,"San Francisco":-11.5,"San Mateo":-16.9,"Santa Clara":-9.5},
{"date":"2021-12-08","Alameda":-0.5,"Contra Costa":-2.3,"San Francisco":-9.8,"San Mateo":-16.2,"Santa Clara":-9.3},
{"date":"2021-12-12","Alameda":0,"Contra Costa":0,"San Francisco":-9,"San Mateo":-15.5,"Santa Clara":-9.5},
{"date":"2021-12-16","Alameda":-1.4,"Contra Costa":-2.7,"San Francisco":-10.6,"San Mateo":-18.1,"Santa Clara":-10.2},
{"date":"2021-12-20","Alameda":0.5,"Contra Costa":-2.4,"San Francisco":-9.5,"San Mateo":-18.7,"Santa Clara":-9},
{"date":"2021-12-22","Alameda":1.8,"Contra Costa":0.2,"San Francisco":-8,"San Mateo":-16.5,"Santa Clara":-7.4},
{"date":"2021-12-24","Alameda":1.8,"Contra Costa":0.5,"San Francisco":-8.5,"San Mateo":-15.3,"Santa Clara":-8},
{"date":"2021-12-26","Alameda":-2,"Contra Costa":-5,"San Francisco":-13.1,"San Mateo":-20,"Santa Clara":-13.7},
{"date":"2021-12-28","Alameda":-6,"Contra Costa":-10,"San Francisco":-18,"San Mateo":-25,"Santa Clara":-18},
{"date":"2021-12-30","Alameda":-7.4,"Contra Costa":-11.8,"San Francisco":-20.6,"San Mateo":-28.4,"Santa Clara":-20.9},
{"date":"2022-01-01","Alameda":-6,"Contra Costa":-9,"San Francisco":-18.5,"San Mateo":-26.5,"Santa Clara":-19},
{"date":"2022-01-03","Alameda":-4.6,"Contra Costa":-6.8,"San Francisco":-15,"San Mateo":-21.6,"Santa Clara":-14.3},
{"date":"2022-01-05","Alameda":-5,"Contra Costa":-7.2,"San Francisco":-15,"San Mateo":-21.6,"Santa Clara":-14.3},
{"date":"2022-01-08","Alameda":-5.7,"Contra Costa":-8.7,"San Francisco":-16.2,"San Mateo":-23.5,"Santa Clara":-15.5},
{"date":"2022-01-11","Alameda":-8.7,"Contra Costa":-11.2,"San Francisco":-17.5,"San Mateo":-26,"Santa Clara":-16.8},
{"date":"2022-01-13","Alameda":-9.3,"Contra Costa":-10.9,"San Francisco":-18.1,"San Mateo":-26.3,"Santa Clara":-18.1},
{"date":"2022-01-15","Alameda":-10.3,"Contra Costa":-16.8,"San Francisco":-17.8,"San Mateo":-32.6,"Santa Clara":-25.8}
]},
"layer": [
{
"data": {"name": "rows"},
"transform": [{"fold": ["Alameda", "Contra Costa", "San Francisco", "San Mateo", "Santa Clara"], "as": ["County", "Value"]}],
"mark": {"type": "line", "strokeJoin": "round", "strokeCap": "round"},
"encoding": {
"x": {"field": "date", "type": "temporal",
"scale": {"type": "utc", "domain": [{"year": 2019, "month": 10, "date": 7, "utc": true}, {"year": 2022, "month": 1, "date": 15, "utc": true}]},
"axis": {"title": null, "grid": false, "ticks": false, "domain": false, "labelAngle": -90, "labelPadding": 20,
"labelFont": "Open Sans", "labelFontSize": 25, "labelColor": "#1a1a1a", "labelOverlap": false, "labelFlush": false, "labelBound": false,
"labelExpr": "utcFormat(datum.value, '%-m/%-d/%y')",
"values": [
{"year":2019,"month":10,"date":7,"utc":true},{"year":2019,"month":10,"date":25,"utc":true},{"year":2019,"month":11,"date":12,"utc":true},{"year":2019,"month":11,"date":30,"utc":true},{"year":2019,"month":12,"date":18,"utc":true},
{"year":2020,"month":1,"date":5,"utc":true},{"year":2020,"month":1,"date":23,"utc":true},{"year":2020,"month":2,"date":10,"utc":true},{"year":2020,"month":2,"date":28,"utc":true},{"year":2020,"month":3,"date":17,"utc":true},
{"year":2020,"month":4,"date":4,"utc":true},{"year":2020,"month":4,"date":22,"utc":true},{"year":2020,"month":5,"date":10,"utc":true},{"year":2020,"month":5,"date":28,"utc":true},{"year":2020,"month":6,"date":15,"utc":true},
{"year":2020,"month":7,"date":3,"utc":true},{"year":2020,"month":7,"date":21,"utc":true},{"year":2020,"month":8,"date":8,"utc":true},{"year":2020,"month":8,"date":26,"utc":true},{"year":2020,"month":9,"date":13,"utc":true},
{"year":2020,"month":10,"date":1,"utc":true},{"year":2020,"month":10,"date":19,"utc":true},{"year":2020,"month":11,"date":6,"utc":true},{"year":2020,"month":11,"date":24,"utc":true},{"year":2020,"month":12,"date":12,"utc":true},
{"year":2020,"month":12,"date":30,"utc":true},{"year":2021,"month":1,"date":17,"utc":true},{"year":2021,"month":2,"date":4,"utc":true},{"year":2021,"month":2,"date":22,"utc":true},{"year":2021,"month":3,"date":12,"utc":true},
{"year":2021,"month":3,"date":30,"utc":true},{"year":2021,"month":4,"date":17,"utc":true},{"year":2021,"month":5,"date":5,"utc":true},{"year":2021,"month":5,"date":23,"utc":true},{"year":2021,"month":6,"date":10,"utc":true},
{"year":2021,"month":6,"date":28,"utc":true},{"year":2021,"month":7,"date":16,"utc":true},{"year":2021,"month":8,"date":3,"utc":true},{"year":2021,"month":8,"date":21,"utc":true},{"year":2021,"month":9,"date":8,"utc":true},
{"year":2021,"month":9,"date":26,"utc":true},{"year":2021,"month":10,"date":14,"utc":true},{"year":2021,"month":11,"date":1,"utc":true},{"year":2021,"month":11,"date":19,"utc":true},{"year":2021,"month":12,"date":7,"utc":true},
{"year":2021,"month":12,"date":25,"utc":true},{"year":2022,"month":1,"date":12,"utc":true}
]}},
"y": {"field": "Value", "type": "quantitative",
"scale": {"domain": [-70, 10], "nice": false, "zero": false},
"axis": {"title": null, "values": [-70, -60, -50, -40, -30, -20, -10, 0, 10], "labelExpr": "datum.value + '%'",
"grid": true, "gridColor": "#d9d9d9", "gridWidth": 2, "domain": false, "ticks": false, "tickSize": 0, "labelPadding": 26,
"labelFont": "Open Sans", "labelFontSize": 25, "labelColor": "#1a1a1a"}},
"color": {"field": "County", "type": "nominal",
"scale": {"domain": ["Alameda", "Contra Costa", "San Francisco", "San Mateo", "Santa Clara"], "range": ["#00964b", "#e69b00", "#0070b9", "#ad1f8a", "#2f9fbf"]},
"legend": {"title": null, "orient": "none", "legendX": 304, "legendY": 6, "direction": "horizontal", "columns": 5,
"labelFont": "Open Sans", "labelFontSize": 25, "labelColor": "#111111", "symbolType": "stroke", "symbolSize": 2600,
"labelOffset": 0, "columnPadding": 12, "padding": 0, "labelLimit": 400,
"encode": {"symbols": {"update": {"strokeCap": {"value": "round"}}}}}},
"strokeWidth": {"field": "County", "type": "nominal",
"scale": {"type": "ordinal", "domain": ["Alameda", "Contra Costa", "San Francisco", "San Mateo", "Santa Clara"], "range": [4.5, 4.5, 10, 4.5, 4.5]},
"legend": {"title": null, "orient": "none", "legendX": 304, "legendY": 6, "direction": "horizontal", "columns": 5,
"labelFont": "Open Sans", "labelFontSize": 25, "labelColor": "#111111", "symbolType": "stroke", "symbolSize": 2600,
"labelOffset": 0, "columnPadding": 12, "padding": 0, "labelLimit": 400,
"encode": {"symbols": {"update": {"strokeCap": {"value": "round"}}}}}}
}
},
{
"data": {"values": [{}]},
"mark": {"type": "rule", "color": "#c0c0c0", "strokeWidth": 6.5, "strokeDash": [8, 8]},
"encoding": {"y": {"datum": 0, "type": "quantitative"}}
}
],
"config": {"view": {"stroke": null}, "font": "Open Sans"}
}
